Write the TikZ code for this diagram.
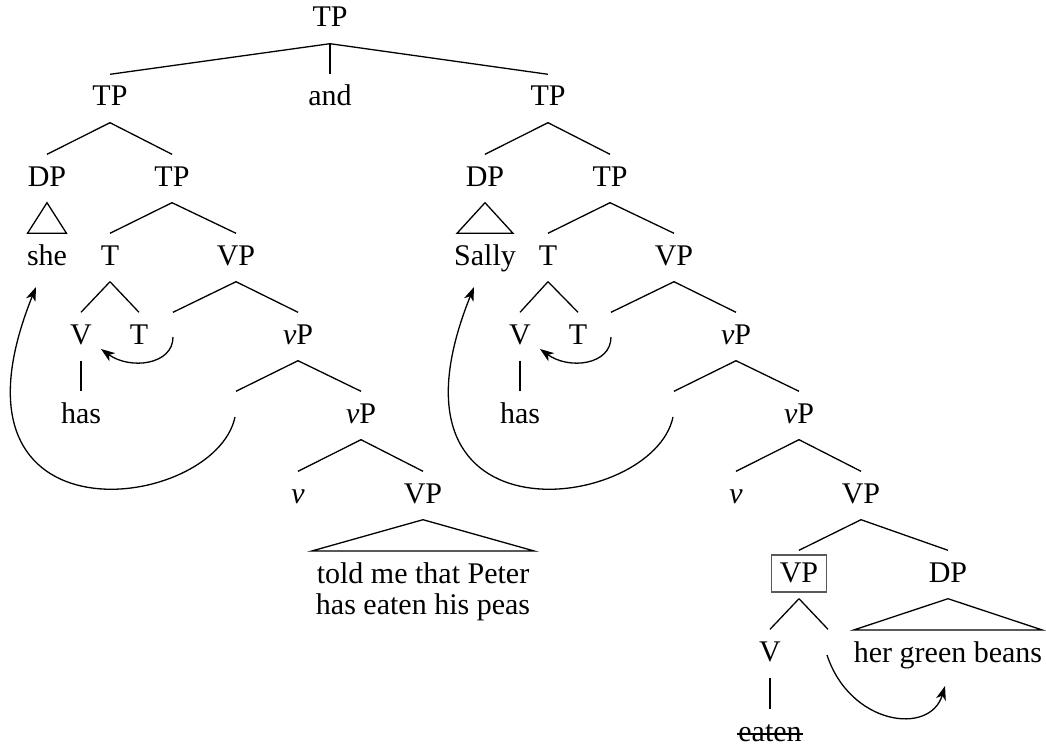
\documentclass[tikz,border=0pt]{standalone}
\usepackage{fontspec}
\setmainfont{Liberation Serif}
\usetikzlibrary{arrows.meta,calc}
\begin{document}
\begin{tikzpicture}[x=1pt,y=-1pt,
  lab/.style={anchor=base,inner xsep=0pt,inner ysep=10pt,text height=21.5pt,text depth=6.5pt,font=\fontsize{30}{31}\selectfont},
  tri/.style={anchor=north,align=center,inner xsep=4pt,inner ysep=11pt,font=\fontsize{30}{31}\selectfont},
  edge/.style={line width=1.3pt},
  mv/.style={line width=1.3pt,-{Stealth[length=14pt,width=10pt,inset=4pt]}},
  boxst/.style={draw=black!65,line width=1.2pt,minimum width=55pt,minimum height=37pt,inner sep=0pt}
]
\useasboundingbox (0,0) rectangle (1046,746);
% level 0
\node[lab] (root) at (330,27) {TP};
% level 1
\node[lab] (tpL) at (110,106) {TP};
\node[lab] (and) at (330,106) {and};
\node[lab] (tpR) at (548,106) {TP};
% level 2
\node[lab] (dpL) at (47,186) {DP};
\node[lab] (tpL2) at (172,186) {TP};
\node[lab] (dpR) at (485,186) {DP};
\node[lab] (tpR2) at (610,186) {TP};
% level 3
\node[lab] (she) at (47,265) {she};
\node[lab] (tL) at (110,265) {T};
\node[lab] (vpL) at (236,265) {VP};
\node[lab] (sally) at (485,265) {Sally};
\node[lab] (tR) at (548,265) {T};
\node[lab] (vpR) at (674,265) {VP};
% level 4
\node[lab] (vL) at (81,344) {V};
\node[lab] (tL2) at (139,344) {T};
\node[lab] (eL1) at (173,344) {};
\node[lab] (vpL2) at (298,344) {\textit{v}P};
\node[lab] (vR) at (520,344) {V};
\node[lab] (tR2) at (578,344) {T};
\node[lab] (eR1) at (611,344) {};
\node[lab] (vpR2) at (736,344) {\textit{v}P};
% level 5
\node[lab] (hasL) at (81,423) {has};
\node[lab] (eL2) at (236,423) {};
\node[lab] (vpL3) at (361,423) {\textit{v}P};
\node[lab] (hasR) at (520,423) {has};
\node[lab] (eR2) at (674,423) {};
\node[lab] (vpR3) at (799,423) {\textit{v}P};
% level 6
\node[lab] (lvL) at (298,503) {\textit{v}};
\node[lab] (VPL4) at (423,503) {VP};
\node[lab] (lvR) at (736,503) {\textit{v}};
\node[lab] (VPR4) at (861,503) {VP};
\node[tri] (told) at (423,551) {told me that Peter\\has eaten his peas};
% level 7
\node[lab] (vpb) at (799,582) {VP};
\node[boxst] (vpbox) at ($(vpb.base)+(0,-8.5)$) {};
\node[lab] (dpb) at (948,582) {DP};
\node[tri,inner xsep=0pt] (beans) at (948,630) {her green beans};
% level 8
\node[lab] (vE) at (770,661) {V};
\node[lab] (eE) at (828,661) {};
% level 9
\node[lab] (eaten) at (770,741) {eaten};

% edges
\foreach \p/\c in {root/tpL,root/and,root/tpR,tpL/tpL2,tpL/dpL,tpR/dpR,tpR/tpR2,
  tpL2/tL,tpL2/vpL,tpR2/tR,tpR2/vpR,tL/vL,tL/tL2,tR/vR,tR/tR2,
  vpL/eL1,vpL/vpL2,vpR/eR1,vpR/vpR2,vL/hasL,vR/hasR,
  vpL2/eL2,vpL2/vpL3,vpR2/eR2,vpR2/vpR3,vpL3/lvL,vpL3/VPL4,vpR3/lvR,vpR3/VPR4,
  VPR4/vpb,VPR4/dpb,vpb/vE,vpb/eE,vE/eaten}
  \draw[edge] (\p.south) -- (\c.north);
% triangles
\draw[edge,line join=miter] (dpL.south) -- ($(she.north)+(-19.5,0)$) -- ($(she.north)+(19.5,0)$) -- cycle;
\draw[edge,line join=miter] (dpR.south) -- ($(sally.north)+(-28,0)$) -- ($(sally.north)+(28,0)$) -- cycle;
\draw[edge,line join=miter] (VPL4.south) -- (told.north west) -- (told.north east) -- cycle;
\draw[edge,line join=miter] (dpb.south) -- (beans.north west) -- (beans.north east) -- cycle;
% strike-through
\draw[line width=1.3pt] ($(eaten.base west)+(-1,-7)$) -- ($(eaten.base east)+(1,-7)$);
% movement arrows
\draw[mv] ($(eL1.base)+(0,-7)$) .. controls +(0,28) and +(29,21) .. ($(vL.base)+(20,5)$);
\draw[mv] ($(eR1.base)+(0,-7)$) .. controls +(0,28) and +(29,21) .. ($(vR.base)+(20,5)$);
\draw[mv] ($(eL2.base)+(-1,-6)$) .. controls +(-20,95) and +(-106,263) .. ($(she.base)+(-11,22)$);
\draw[mv] ($(eR2.base)+(-1,-6)$) .. controls +(-20,95) and +(-106,263) .. ($(sally.base)+(-11,22)$);
\draw[mv] ($(eE.base)+(-1,-6)$) .. controls +(23,70) and +(-15,50) .. ($(beans.base)+(-3,24)$);
\end{tikzpicture}
\end{document}
